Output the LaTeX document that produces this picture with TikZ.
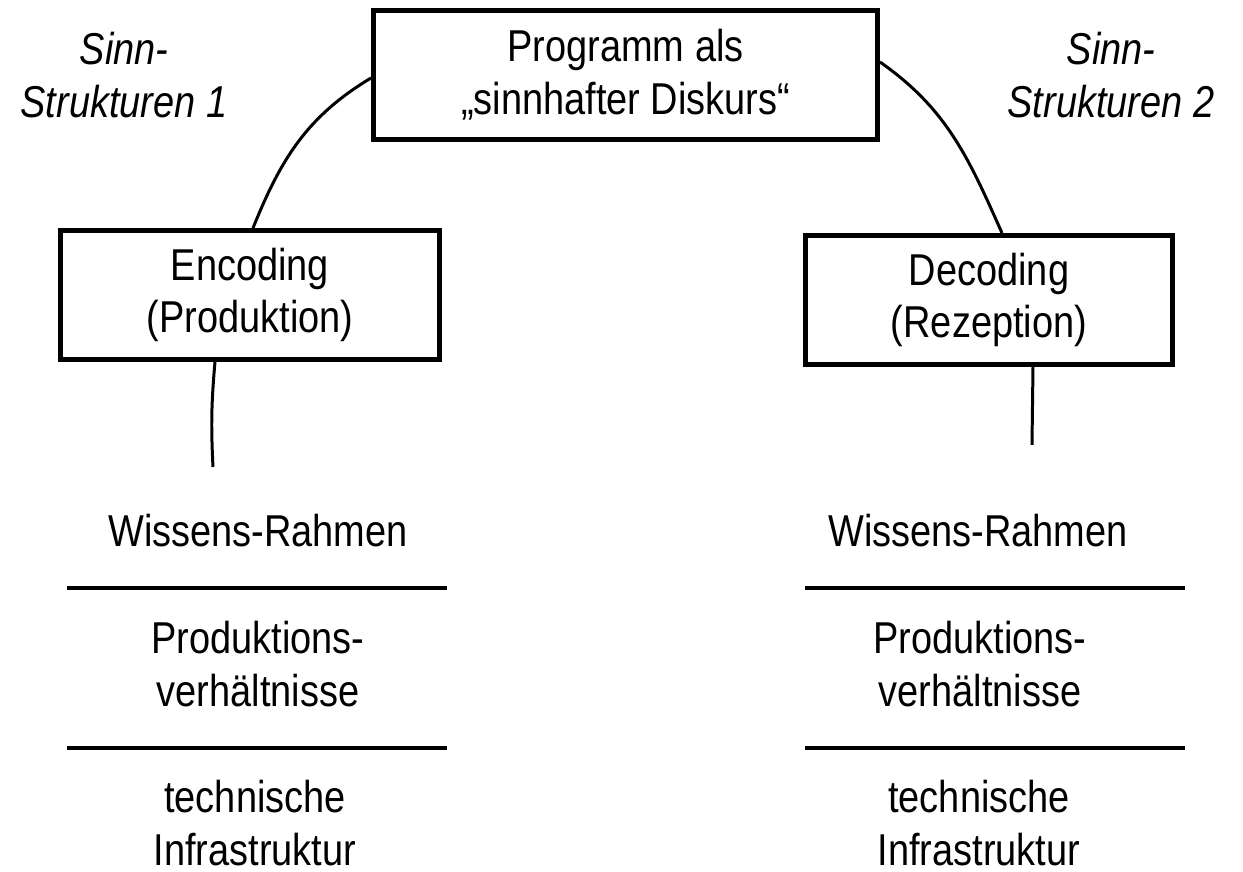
\documentclass[tikz,border=0pt]{standalone}
\usepackage{fontspec}
\setmainfont[FakeStretch=0.85]{Liberation Sans}
\tikzset{
  box/.style={draw, line width=1.4pt, minimum height=1.29cm, inner sep=0pt, align=center},
  link/.style={line width=0.85pt},
  rule/.style={line width=1.1pt},
  label/.style={align=center, inner sep=0pt}
}
\begin{document}
\begin{tikzpicture}
                \useasboundingbox (0,0) rectangle (12.430000,8.720000);
                {\fontsize{12.7}{15.0}\selectfont

                % Drawing box Programm
                \node [box, minimum width=5.040000cm] (prog) at (6.255000,7.970000) {Programm als\\„sinnhafter Diskurs“};%

                % Drawing box Encoding
                \node [box, minimum width=3.790000cm] (enc) at (2.500000,5.770000) {Encoding\\(Produktion)};%

                % Drawing box Decoding
                \node [box, minimum width=3.670000cm] (dec) at (9.890000,5.720000) {Decoding\\(Rezeption)};%

                % Marking Sinn-Strukturen
                \node [label, font=\itshape] (sinnA) at (1.240000,7.970000) {Sinn-\\Strukturen 1};%
                \node [label, font=\itshape] (sinnB) at (11.110000,7.970000) {Sinn-\\Strukturen 2};%

                % Drawing arcs
                \draw [link] ([yshift=-0.3mm]prog.west) to [out=211, in=68] ([xshift=0.3mm]enc.north);%
                \draw [link] ([yshift=1.3mm]prog.east) to [out=-35, in=114] ([xshift=1.3mm]dec.north);%

                % Drawing stems
                \coordinate (encend) at (2.130000,4.050000);%
                \coordinate (decend) at (10.320000,4.270000);%
                \draw [link] ([xshift=-3.5mm]enc.south) to [bend right=4] (encend);%
                \draw [link] ([xshift=4.4mm]dec.south) -- (decend);%

                % Marking left column
                \node [label, anchor=base] (wissA) at (2.580000,3.250000) {Wissens-Rahmen};%
                \draw [rule] (0.670000,2.840000) -- (4.470000,2.840000);%
                \node [label] (prodA) at (2.580000,2.080000) {Produktions-\\verhältnisse};%
                \draw [rule] (0.670000,1.240000) -- (4.470000,1.240000);%
                \node [label] (techA) at (2.550000,0.490000) {technische\\Infrastruktur};%

                % Marking right column
                \node [label, anchor=base] (wissB) at (9.780000,3.250000) {Wissens-Rahmen};%
                \draw [rule] (8.050000,2.840000) -- (11.850000,2.840000);%
                \node [label] (prodB) at (9.800000,2.080000) {Produktions-\\verhältnisse};%
                \draw [rule] (8.050000,1.240000) -- (11.850000,1.240000);%
                \node [label] (techB) at (9.790000,0.490000) {technische\\Infrastruktur};%
                }
\end{tikzpicture}
\end{document}
